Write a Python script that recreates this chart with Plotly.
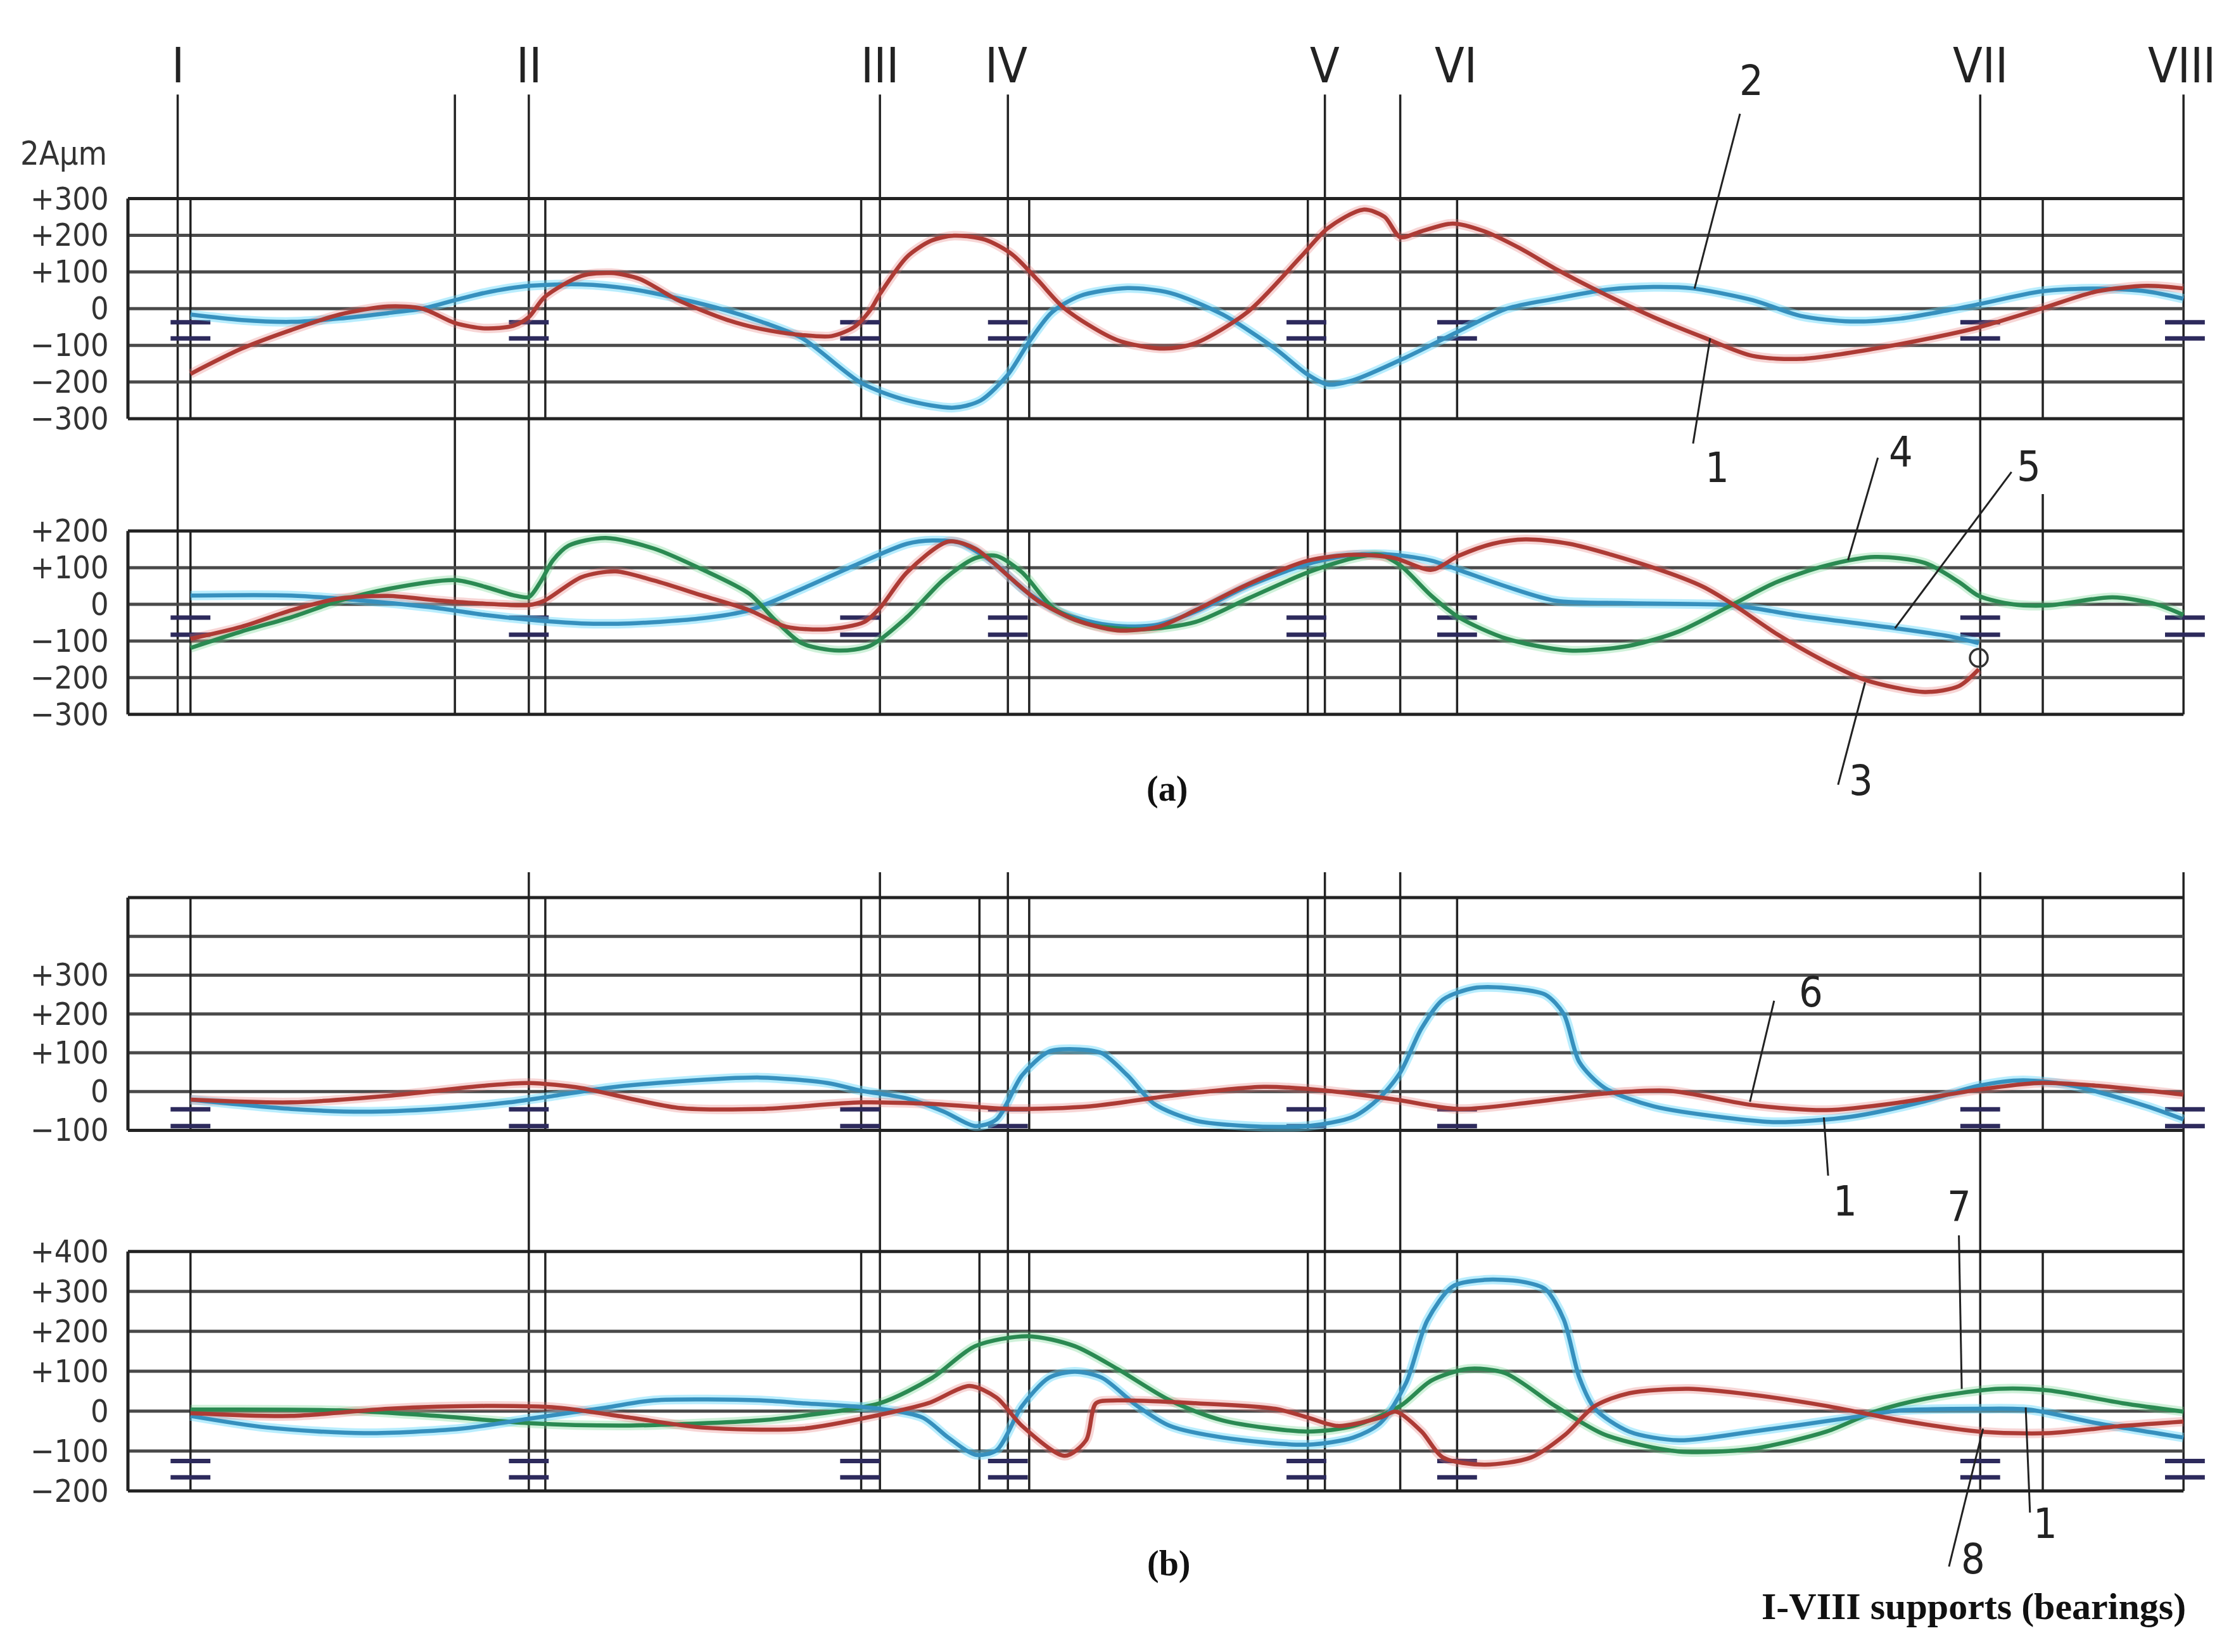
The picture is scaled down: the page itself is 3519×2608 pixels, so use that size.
import plotly.graph_objects as go

W, H = 3519, 2608
XD = 1568.0            # reference "display" units across the page width
S = W / XD
OFF = 8                # browser body margin (px)
WF, HF = W - 2 * OFF, H - 2 * OFF

def py(yd):
    return 1 - (yd * S - OFF) / HF

# ---------------- supports ----------------
SUPPORT_LABELS = ["I", "II", "III", "IV", "V", "VI", "VII", "VIII"]
SUPPORT_LABEL_X = [125, 372, 619, 708, 932, 1024, 1393, 1535]
SUPPORT_X = [134, 372, 605, 709, 919, 1025, 1393, 1537]

# ---------------- tick labels ----------------
TICKS_A1 = [300, 200, 100, 0, -100, -200, -300]
TICKS_A2 = [200, 100, 0, -100, -200, -300]
TICKS_B1 = [300, 200, 100, 0, -100]
TICKS_B2 = [400, 300, 200, 100, 0, -100, -200]

def tick_text(v):
    if v > 0:
        return "+%d" % v
    if v < 0:
        return "\u2212%d" % (-v)
    return "0"

# ---------------- panel (a) upper : curves 1 (red) and 2 (blue) ----------------
A1_RED_X = [134, 170, 205, 239, 273, 297, 320, 341, 361, 372, 383, 409, 430, 450, 477, 511, 535,
            564, 585, 601, 612, 619, 638, 655, 671, 693, 712, 730, 749, 786, 819, 841, 878, 915,
            934, 959, 974, 985, 1000, 1022, 1044, 1069, 1094, 1129, 1163, 1198, 1233, 1267,
            1319, 1371, 1392, 1436, 1475, 1510, 1536]
A1_RED_Y = [-178, -109, -58, -16, 6, 0, -39, -54, -47, -23, 31, 89, 97, 81, 23, -30, -55,
            -72, -75, -50, -5, 40, 141, 185, 199, 188, 148, 78, 0, -86, -109, -94, -8, 141,
            219, 270, 250, 195, 211, 232, 211, 165, 109, 39, -23, -78, -129, -137,
            -109, -70, -51, 0, 47, 62, 55]
A1_BLUE_X = [134, 170, 205, 239, 273, 297, 320, 341, 372, 409, 443, 477, 511, 535, 564, 606, 638,
             671, 690, 709, 724, 740, 760, 793, 823, 860, 897, 920, 934, 952, 989, 1026, 1060,
             1094, 1129, 1163, 1191, 1233, 1267, 1302, 1337, 1371, 1392, 1436, 1475, 1510, 1536]
A1_BLUE_Y = [-16, -31, -36, -27, -12, 0, 23, 43, 62, 66, 54, 28, -5, -35, -80, -203, -250,
             -270, -250, -180, -90, -10, 35, 56, 43, -16, -109, -180, -207, -195, -133, -62, 0,
             27, 51, 59, 55, 23, -20, -35, -27, -4, 12, 47, 55, 47, 27]

# ---------------- panel (a) lower : curves 3 (red), 4 (green), 5 (blue) ----------------
A2_RED_X = [134, 170, 205, 239, 273, 307, 341, 372, 383, 409, 433, 460, 494, 527, 553, 582, 608,
            619, 638, 667, 686, 712, 730, 756, 786, 815, 841, 878, 920, 952, 981, 1007, 1026,
            1050, 1073, 1104, 1163, 1198, 1219, 1250, 1285, 1312, 1354, 1378, 1392]
A2_RED_Y = [-94, -61, -16, 16, 23, 11, 2, -2, 10, 74, 90, 65, 24, -16, -61, -68, -48,
            -10, 87, 171, 152, 68, 10, -42, -71, -61, -16, 55, 119, 135, 126, 94, 132,
            165, 177, 165, 100, 48, 0, -81, -158, -206, -239, -223, -177]
A2_GREEN_X = [134, 170, 205, 239, 273, 320, 341, 361, 372, 380, 389, 400, 426, 460, 494, 527, 545,
              564, 590, 612, 638, 664, 686, 701, 719, 741, 767, 804, 841, 878, 920, 952, 970,
              985, 1007, 1026, 1060, 1104, 1146, 1181, 1219, 1250, 1285, 1319, 1354, 1378,
              1392, 1416, 1441, 1486, 1517, 1536]
A2_GREEN_Y = [-119, -74, -35, 10, 42, 66, 48, 25, 20, 60, 120, 160, 181, 152, 95, 29, -42,
              -106, -126, -113, -35, 68, 126, 132, 87, -10, -55, -68, -48, 16, 87, 126, 135,
              106, 23, -35, -94, -126, -113, -74, 0, 61, 106, 129, 113, 61,
              23, 0, -3, 19, 0, -29]
A2_BLUE_X = [134, 205, 256, 307, 341, 372, 409, 443, 494, 527, 564, 601, 638, 656, 675, 700, 720,
             745, 770, 790, 815, 841, 878, 920, 952, 981, 1007, 1026, 1060, 1094, 1146, 1219,
             1267, 1333, 1371, 1392]
A2_BLUE_Y = [24, 24, 10, -10, -29, -42, -52, -52, -38, -16, 42, 106, 165, 174, 168, 110, 40,
             -20, -50, -60, -55, -20, 50, 110, 135, 135, 119, 94, 48, 10, 3, -3,
             -32, -65, -87, -106]
A2_CIRCLE_X = [1392]
A2_CIRCLE_Y = [-146]

# ---------------- panel (b) upper : curves 1 (blue), 6 (red) ----------------
B1_RED_X = [134, 205, 273, 341, 372, 409, 443, 477, 535, 606, 656, 712, 767, 823, 889, 934, 982,
            1026, 1077, 1129, 1174, 1233, 1285, 1337, 1392, 1434, 1475, 1536]
B1_RED_Y = [-21, -28, -11, 15, 22, 9, -18, -42, -45, -28, -32, -45, -38, -11, 12, 2, -21,
            -45, -28, -5, 2, -35, -48, -28, 5, 22, 15, -8]
B1_BLUE_X = [134, 205, 256, 307, 358, 383, 426, 477, 535, 582, 606, 638, 664, 686, 701, 719, 738,
             756, 775, 793, 812, 841, 878, 920, 952, 970, 985, 1000, 1015, 1037, 1060, 1087,
             1100, 1111, 1129, 1163, 1215, 1250, 1302, 1354, 1392, 1423, 1458, 1510, 1536]
B1_BLUE_Y = [-21, -45, -52, -45, -28, -15, 9, 26, 36, 22, 2, -18, -52, -89, -72, 42, 103,
             109, 99, 42, -32, -75, -89, -89, -65, -18, 49, 163, 237, 267, 267, 250,
             200, 76, 9, -38, -68, -79, -65, -25, 15, 29, 15, -38, -72]

# ---------------- panel (b) lower : curves 1 (blue), 7 (green), 8 (red) ----------------
B2_GREEN_X = [134, 239, 307, 372, 443, 535, 564, 619, 656, 686, 723, 756, 786, 823, 860, 920, 952,
              985, 1007, 1033, 1059, 1094, 1129, 1181, 1233, 1285, 1319, 1354, 1406, 1441,
              1493, 1536]
B2_GREEN_Y = [4, 2, -12, -30, -36, -23, -12, 20, 84, 163, 188, 163, 106, 27, -23, -51, -37,
              13, 77, 106, 95, 13, -59, -101, -94, -51, -1, 31, 56, 52, 20, -1]
B2_RED_X = [134, 205, 273, 341, 392, 443, 494, 564, 619, 653, 682, 701, 719, 749, 764, 771, 786,
            841, 897, 920, 941, 971, 982, 1000, 1015, 1044, 1077, 1101, 1122, 1146, 1188,
            1233, 1285, 1337, 1392, 1441, 1493, 1536]
B2_RED_Y = [-5, -12, 6, 13, 9, -16, -41, -44, -9, 20, 63, 34, -37, -112, -73, 20, 27,
            20, 6, -16, -37, -16, -1, -51, -116, -134, -116, -59, 13, 45, 56,
            41, 13, -23, -51, -55, -37, -26]
B2_BLUE_X = [134, 188, 256, 324, 372, 426, 460, 535, 564, 619, 649, 667, 686, 701, 719, 738, 756,
             775, 800, 823, 860, 920, 952, 971, 989, 1004, 1022, 1044, 1070, 1087, 1100, 1111,
             1122, 1146, 1181, 1233, 1302, 1337, 1392, 1427, 1475, 1536]
B2_BLUE_Y = [-12, -41, -55, -44, -19, 9, 27, 27, 20, 6, -16, -66, -109, -98, 13, 84, 99,
             84, 13, -37, -66, -84, -66, -30, 70, 227, 313, 329, 325, 306, 230, 84,
             6, -51, -73, -51, -16, 2, 6, 4, -30, -66]

# ---------------- panel geometry (display units) ----------------
PANELS = [
    dict(ax="y",  vmin=-300, vmax=300, ytop=139.7, ybot=294.5, grid=[300, 200, 100, 0, -100, -200, -300],
         ticks=TICKS_A1, inner=[134, 383.6, 605.8, 724, 920, 1025, 1437], marks=[-37, -81]),
    dict(ax="y2", vmin=-300, vmax=200, ytop=373.5, ybot=502.5, grid=[200, 100, 0, -100, -200, -300],
         ticks=TICKS_A2, inner=[134, 383.6, 724, 920, 1025], marks=[-36, -83]),
    dict(ax="y3", vmin=-100, vmax=500, ytop=631.4, ybot=795.1, grid=[500, 400, 300, 200, 100, 0, -100],
         ticks=TICKS_B1, inner=[134, 383.6, 605.8, 689, 724, 920, 1025, 1437], marks=[-46, -89]),
    dict(ax="y4", vmin=-200, vmax=400, ytop=880.4, ybot=1048.8, grid=[400, 300, 200, 100, 0, -100, -200],
         ticks=TICKS_B2, inner=[134, 383.6, 605.8, 689, 724, 920, 1025, 1437], marks=[-125, -166]),
]
BOX_LEFT, BOX_RIGHT = 90, 1536

RED, RED_H = "#ad3b35", "rgba(230,120,120,0.30)"
BLUE, BLUE_H = "#3690be", "rgba(100,215,250,0.45)"
GREEN, GREEN_H = "#2b8a52", "rgba(110,210,140,0.32)"
NAVY = "#2d2a5c"
GRID = "#4a4a4a"
DARK = "#222222"

SANS = "Liberation Sans Narrow, DejaVu Sans Condensed, Arial Narrow, Liberation Sans, sans-serif"
SERIF = "Liberation Serif, Times New Roman, serif"

fig = go.Figure()
shapes = []
annotations = []

layout_axes = {}
PAD = 80
for p in PANELS:
    k = (p["ybot"] - p["ytop"]) / (p["vmax"] - p["vmin"])
    d0 = py(p["ybot"] + PAD * k)
    d1 = py(p["ytop"] - PAD * k)
    name = "yaxis" if p["ax"] == "y" else "yaxis" + p["ax"][1:]
    layout_axes[name] = dict(domain=[d0, d1], range=[p["vmin"] - PAD, p["vmax"] + PAD],
                             visible=False, anchor="x", fixedrange=True)
    for g in p["grid"]:
        edge = g in (p["vmin"], p["vmax"])
        shapes.append(dict(type="line", xref="x", yref=p["ax"], x0=BOX_LEFT, x1=BOX_RIGHT, y0=g, y1=g,
                           line=dict(color=DARK if edge else GRID, width=5), layer="below"))
    shapes.append(dict(type="line", xref="x", yref=p["ax"], x0=BOX_LEFT, x1=BOX_LEFT,
                       y0=p["vmin"], y1=p["vmax"], line=dict(color=DARK, width=5), layer="below"))
    for xv in p["inner"]:
        shapes.append(dict(type="line", xref="x", yref=p["ax"], x0=xv, x1=xv,
                           y0=p["vmin"], y1=p["vmax"], line=dict(color=DARK, width=3.5), layer="below"))
    for t in p["ticks"]:
        annotations.append(dict(xref="x", yref=p["ax"], x=77, y=t, text=tick_text(t), showarrow=False,
                                xanchor="right", yanchor="middle", borderpad=0,
                                font=dict(family=SANS, size=50, color="#333333")))
    mx, my = [], []
    for sx in SUPPORT_X:
        for lv in p["marks"]:
            mx += [sx - 14, sx + 14, None]
            my += [lv, lv, None]
    fig.add_trace(go.Scatter(x=mx, y=my, yaxis=p["ax"], mode="lines",
                             line=dict(color=NAVY, width=7), hoverinfo="skip", showlegend=False))

LONG_A = [125, 320, 372, 619, 709, 932, 985, 1393, 1536]
for xv in LONG_A:
    shapes.append(dict(type="line", xref="x", yref="paper", x0=xv, x1=xv, y0=py(66.5), y1=py(502.5),
                       line=dict(color=DARK, width=3.5), layer="below"))
shapes.append(dict(type="line", xref="x", yref="paper", x0=1437, x1=1437, y0=py(347.6), y1=py(502.5),
                   line=dict(color=DARK, width=3.5), layer="below"))
LONG_B = [372, 619, 709, 932, 985, 1393, 1536]
for xv in LONG_B:
    shapes.append(dict(type="line", xref="x", yref="paper", x0=xv, x1=xv, y0=py(613.6), y1=py(1048.8),
                       line=dict(color=DARK, width=3.5), layer="below"))

SERIES = [
    ("y", A1_BLUE_X, A1_BLUE_Y, BLUE, BLUE_H),
    ("y", A1_RED_X, A1_RED_Y, RED, RED_H),
    ("y2", A2_BLUE_X, A2_BLUE_Y, BLUE, BLUE_H),
    ("y2", A2_GREEN_X, A2_GREEN_Y, GREEN, GREEN_H),
    ("y2", A2_RED_X, A2_RED_Y, RED, RED_H),
    ("y3", B1_BLUE_X, B1_BLUE_Y, BLUE, BLUE_H),
    ("y3", B1_RED_X, B1_RED_Y, RED, RED_H),
    ("y4", B2_GREEN_X, B2_GREEN_Y, GREEN, GREEN_H),
    ("y4", B2_BLUE_X, B2_BLUE_Y, BLUE, BLUE_H),
    ("y4", B2_RED_X, B2_RED_Y, RED, RED_H),
]
for ax, xs, ys, c, h in SERIES:
    fig.add_trace(go.Scatter(x=xs, y=ys, yaxis=ax, mode="lines",
                             line=dict(color=h, width=15, shape="spline", smoothing=0.8),
                             hoverinfo="skip", showlegend=False))
for ax, xs, ys, c, h in SERIES:
    fig.add_trace(go.Scatter(x=xs, y=ys, yaxis=ax, mode="lines",
                             line=dict(color=c, width=6.5, shape="spline", smoothing=0.8),
                             hoverinfo="skip", showlegend=False))

fig.add_trace(go.Scatter(x=A2_CIRCLE_X, y=A2_CIRCLE_Y, yaxis="y2", mode="markers",
                         marker=dict(symbol="circle-open", size=28, color="#333333", line=dict(width=3.5)),
                         hoverinfo="skip", showlegend=False))

for lab, xv in zip(SUPPORT_LABELS, SUPPORT_LABEL_X):
    annotations.append(dict(xref="x", yref="paper", x=xv, y=py(46), text=lab, showarrow=False,
                            xanchor="center", yanchor="middle",
                            font=dict(family=SANS, size=76, color="#222222")))

annotations.append(dict(xref="x", yref="paper", x=45, y=py(108), text="2A\u00b5m", showarrow=False,
                        xanchor="center", yanchor="middle", font=dict(family=SANS, size=52, color="#333333")))

LEADERS = [
    ("2", 1232, 57, 1224, 80, 1192, 203),
    ("1", 1208, 329, 1203, 238, 1191, 312),
    ("4", 1337, 318, 1321, 322, 1300, 394),
    ("5", 1427, 328, 1415, 332, 1333, 442),
    ("3", 1309, 549, 1312, 480, 1293, 552),
    ("6", 1274, 698, 1248, 704, 1231, 775),
    ("1", 1298, 845, 1283, 786, 1286, 827),
    ("7", 1378, 849, 1378, 869, 1380, 977),
    ("8", 1388, 1097, 1395, 1005, 1371, 1102),
    ("1", 1439, 1072, 1425, 990, 1428, 1064),
]
for t, tx, ty, x0, y0, x1, y1 in LEADERS:
    shapes.append(dict(type="line", xref="x", yref="paper", x0=x0, x1=x1, y0=py(y0), y1=py(y1),
                       line=dict(color="#222222", width=3)))
    annotations.append(dict(xref="x", yref="paper", x=tx, y=py(ty), text=t, showarrow=False,
                            xanchor="center", yanchor="middle", borderpad=0,
                            font=dict(family=SANS, size=66, color="#222222")))

annotations.append(dict(xref="x", yref="paper", x=821, y=py(555), text="<b>(a)</b>", showarrow=False,
                        xanchor="center", yanchor="middle", font=dict(family=SERIF, size=56, color="#111111")))
annotations.append(dict(xref="x", yref="paper", x=822, y=py(1100), text="<b>(b)</b>", showarrow=False,
                        xanchor="center", yanchor="middle", font=dict(family=SERIF, size=56, color="#111111")))
annotations.append(dict(xref="x", yref="paper", x=1538, y=py(1130), text="<b>I-VIII supports (bearings)</b>",
                        showarrow=False, xanchor="right", yanchor="middle", borderpad=0,
                        font=dict(family=SERIF, size=60, color="#111111")))

fig.update_layout(
    width=WF, height=HF,
    margin=dict(l=0, r=0, t=0, b=0),
    paper_bgcolor="white", plot_bgcolor="rgba(0,0,0,0)",
    xaxis=dict(range=[OFF / S, (W - OFF) / S], domain=[0, 1], visible=False, anchor="y", fixedrange=True),
    shapes=shapes, annotations=annotations, showlegend=False,
    **layout_axes,
)
fig.write_html("out.html")
